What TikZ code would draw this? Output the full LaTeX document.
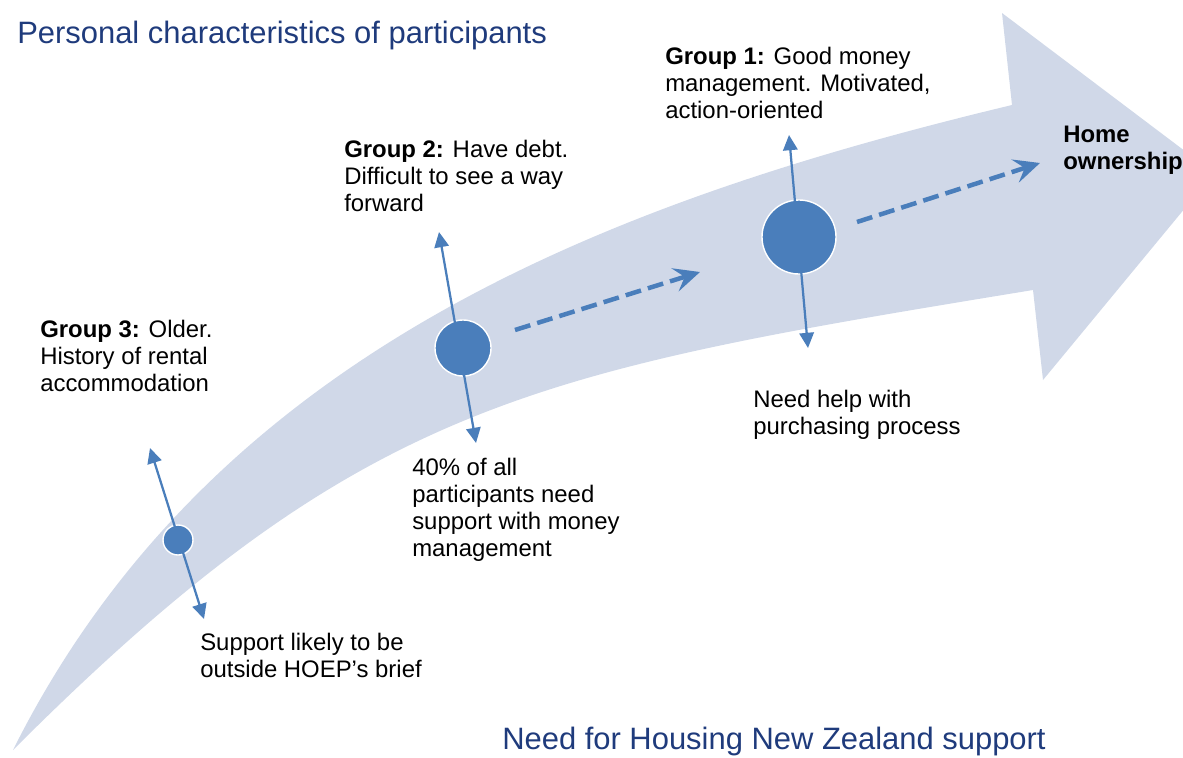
\documentclass[tikz,border=0pt]{standalone}
\usepackage{fontspec}
\setmainfont{Liberation Sans}
\usetikzlibrary{arrows.meta}
\definecolor{bandblue}{HTML}{D0D8E8}
\definecolor{dotblue}{HTML}{4A7EBB}
\definecolor{navy}{HTML}{1F3B7C}

\begin{document}
\begin{tikzpicture}[
  x=0.025cm, y=-0.025cm,
  font=\fontsize{17}{19.2}\selectfont,
  note/.style={anchor=north west, align=left, inner sep=0pt},
  heading/.style={anchor=north west, inner sep=0pt, text=navy,
                  font=\fontsize{22}{26}\selectfont},
  dot/.style={circle, fill=dotblue, draw=white, line width=1pt, inner sep=0pt},
  updown/.style={{Triangle[length=3.8mm, width=3.6mm]}-{Triangle[length=3.8mm, width=3.6mm]},
                 dotblue, line width=1.6pt},
  flow/.style={-{Stealth[length=6.5mm, width=6mm, inset=2.5mm]}, dotblue,
               line width=3.2pt, dash pattern=on 4mm off 1.8mm},
]
  \useasboundingbox (0,0) rectangle (1183,757);
  \clip (0,0) rectangle (1183,757);

  % curved band with its head
  \fill[bandblue] (13,750) .. controls (213,350) and (612,201) .. (1012,105)
    -- (1002,13) -- (1214,173) -- (1043,380) -- (1033,290)
    .. controls (533,372) and (363,400) .. (13,750) -- cycle;

  % the three groups
  \node[dot, minimum size=0.75cm] (g3) at (178,540) {};
  \node[dot, minimum size=1.4cm] (g2) at (463,348) {};
  \node[dot, minimum size=1.85cm] (g1) at (799,237) {};

  \coordinate (g3up) at (150,448);
  \coordinate (g3down) at (204,619);
  \coordinate (g2up) at (439,232);
  \coordinate (g2down) at (476,443);
  \coordinate (g1up) at (789,135);
  \coordinate (g1down) at (808,348);

  \draw[updown] (g3up) -- (g3down);
  \draw[updown] (g2up) -- (g2down);
  \draw[updown] (g1up) -- (g1down);

  \coordinate (step1a) at (515,330);
  \coordinate (step1b) at (700,272);
  \coordinate (step2a) at (857,222);
  \coordinate (step2b) at (1040,163);
  \draw[flow] (step1a) -- (step1b);
  \draw[flow] (step2a) -- (step2b);

  % labels
  \node[note] (grp3) at (40,320) {\textbf{Group 3:} Older.\\History of rental\\accommodation};
  \node[note] (grp2) at (344,140) {\textbf{Group 2:} Have debt.\\Difficult to see a way\\forward};
  \node[note] (grp1) at (665,47) {\textbf{Group 1:} Good money\\management. Motivated,\\action-oriented};
  \node[note, font={\fontsize{17}{19.2}\selectfont\bfseries}] (home) at (1063,126) {Home\\ownership};

  \node[note] (need3) at (200,633) {Support likely to be\\outside HOEP’s brief};
  \node[note] (need2) at (412,458) {40\% of all\\participants need\\support with money\\management};
  \node[note] (need1) at (753,390) {Need help with\\purchasing process};

  \node[heading] (personal) at (17,21) {Personal characteristics of participants};
  \node[heading] (support) at (502,727) {Need for Housing New Zealand support};
\end{tikzpicture}
\end{document}
